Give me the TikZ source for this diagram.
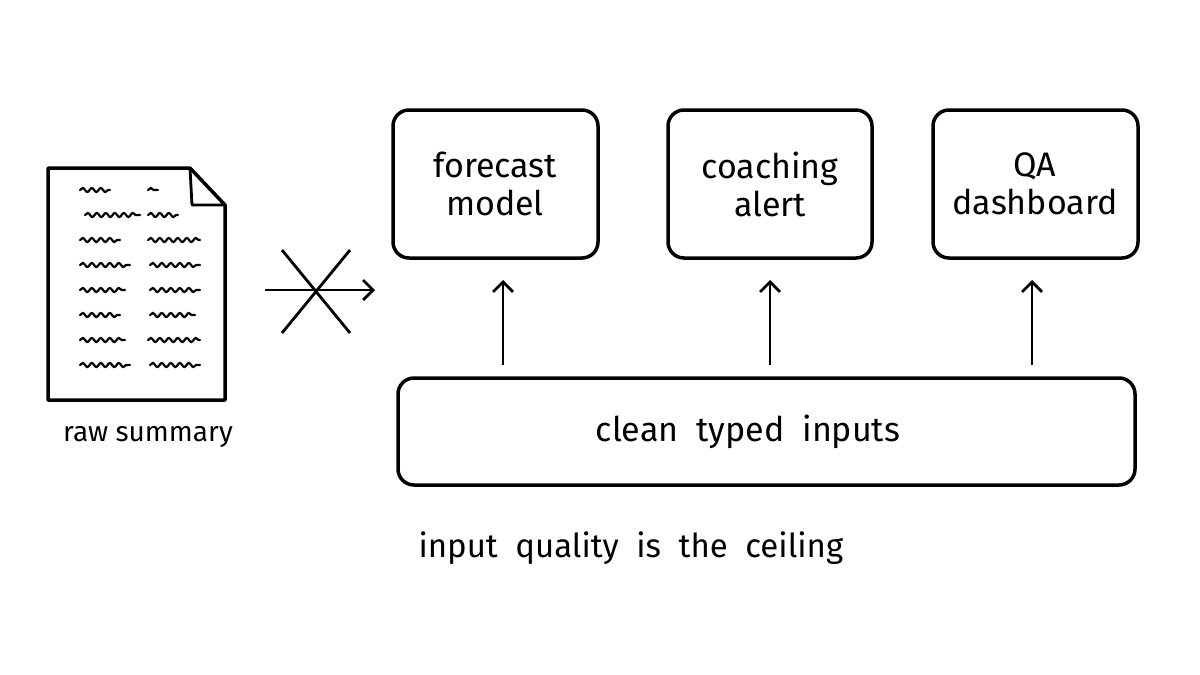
\documentclass[tikz,border=0pt]{standalone}
\usepackage{fontspec}
\setmainfont{Fira Sans}
\usetikzlibrary{decorations.pathmorphing,arrows.meta}
\begin{document}
\begin{tikzpicture}[x=1pt,y=-1pt,
 box/.style={draw,line width=3.5pt,rounded corners=16pt},
 lbl/.style={font=\fontsize{34}{38}\selectfont,align=center},
 arr/.style={line width=2.8pt,->,>={Straight Barb[length=10pt,width=20pt]}},
 sq/.style={line width=2.2pt,line cap=round,decorate,decoration={snake,amplitude=2pt,segment length=9pt}}]
\useasboundingbox (0,0) rectangle (1200,675);
\draw[box] (393,110) rectangle (598,258);
\node[lbl] (fm) at (495,184) {forecast\\model};
\draw[box] (668,110) rectangle (872,258);
\node[lbl] (ca) at (770,184) {coaching\\alert};
\draw[box] (933,110) rectangle (1138,258);
\node[lbl] (qa) at (1035,184) {QA\\dashboard};
\draw[box] (398,378) rectangle (1135,485);
\node[lbl] (ci) at (748,432) {clean\ \ typed\ \ inputs};
\coordinate (a1) at (503,365); \coordinate (b1) at (503,280);
\coordinate (a2) at (770,365); \coordinate (b2) at (770,280);
\coordinate (a3) at (1032,365); \coordinate (b3) at (1032,280);
\draw[arr] (a1)--(b1); \draw[arr] (a2)--(b2); \draw[arr] (a3)--(b3);
% document
\draw[line width=3.5pt,line join=round] (48,168) -- (190,168) -- (225,205) -- (225,400) -- (48,400) -- cycle;
\draw[line width=2.8pt,line join=round] (190,168) -- (192,205) -- (225,205);
\foreach \y/\a/\b in {190/80/110,215/85/140,240/80/120,265/80/130,290/80/125,315/80/120,340/80/125,365/80/130}{
 \draw[sq] (\a,\y) -- (\b,\y);}
\foreach \y/\a/\b in {190/148/158,215/148/178,240/148/200,265/150/200,290/150/200,315/150/195,340/148/200,365/150/200}{
 \draw[sq] (\a,\y) -- (\b,\y);}
\node[lbl,font=\fontsize{28}{32}\selectfont] (rs) at (148,437) {raw summary};
% crossed arrow
\coordinate (c1) at (265,290); \coordinate (c2) at (375,290);
\draw[arr] (c1)--(c2);
\draw[line width=2.8pt] (282,250)--(350,333) (350,250)--(282,333);
\node[lbl,anchor=west,font=\fontsize{33}{36}\selectfont] (iq) at (415,548) {input\ \ quality\ \ is\ \ the\ \ ceiling};
\end{tikzpicture}
\end{document}
